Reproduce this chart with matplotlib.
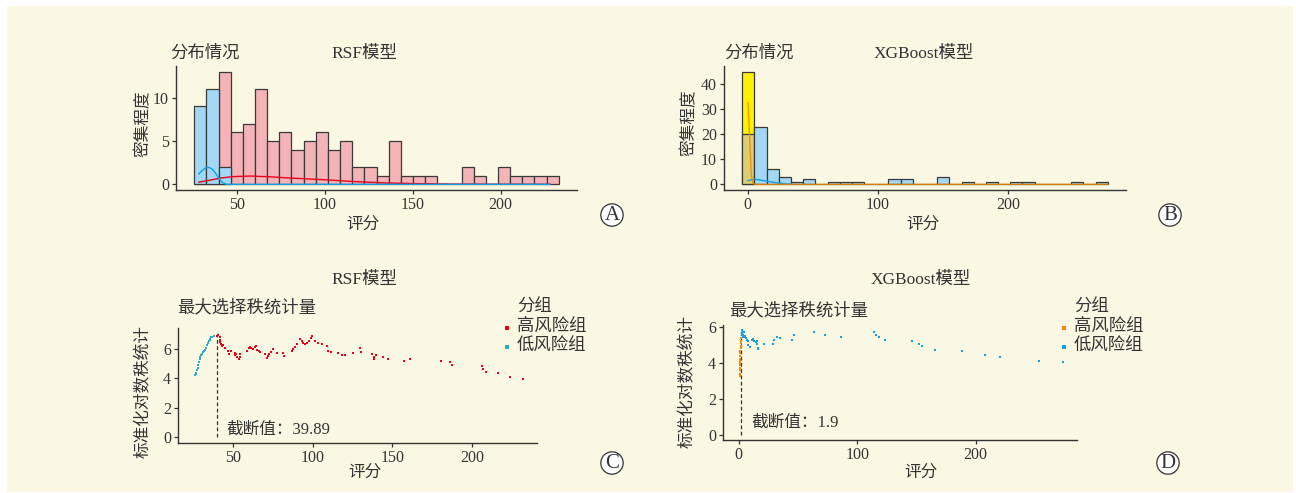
import numpy as np
import matplotlib
matplotlib.use('Agg')
import matplotlib.pyplot as plt
from matplotlib.patches import Rectangle
from matplotlib.lines import Line2D

plt.rcParams['font.family'] = ['Liberation Serif', 'Noto Sans CJK SC']

# ---------------- data ----------------
# RSF histogram (30 bins)
rsf_min, rsf_max = 29.1, 229.5
rsf_high_counts = [0, 0, 13, 6, 7, 11, 5, 6, 4, 5, 6, 4, 5, 2, 2, 1, 5, 1, 1, 1,
                   0, 0, 2, 1, 0, 2, 1, 1, 1, 1]
rsf_low_counts = [9, 11, 2, 0, 0, 0, 0, 0, 0, 0, 0, 0, 0, 0, 0, 0, 0, 0, 0, 0,
                  0, 0, 0, 0, 0, 0, 0, 0, 0, 0]
rsf_low_dens_x = [28.2, 30.1, 32.0, 33.9, 35.8, 37.7, 39.6, 41.5, 43.9, 228.0]
rsf_low_dens_y = [1.2, 1.6, 1.88, 1.96, 1.77, 1.3, 0.7, 0.22, 0.0, 0.0]
rsf_high_dens_x = [28.2, 35, 40.5, 48, 57.6, 68, 78.4, 90, 101, 116, 135, 154, 173, 228]
rsf_high_dens_y = [0.25, 0.5, 0.73, 0.9, 0.96, 0.88, 0.75, 0.63, 0.52, 0.33, 0.16, 0.08, 0.03, 0.0]

# XGBoost histogram (30 bins)
xgb_min, xgb_max = 0.6, 272.0
xgb_high_counts = [45] + [0] * 29
xgb_low_counts = [20, 23, 6, 3, 1, 2, 0, 1, 1, 1, 0, 0, 2, 2, 0, 0, 3, 0, 1, 0,
                  1, 0, 1, 1, 0, 0, 0, 1, 0, 1]
xgb_high_dens_x = [0.3, 1.0, 1.8, 2.8, 4.1, 6.0, 276.7]
xgb_high_dens_y = [32.6, 25.0, 16.5, 4.3, 0.3, 0.0, 0.0]
xgb_low_dens_x = [0.3, 3.0, 6.2, 10.0, 13.8, 19.0, 24.1, 30.0, 34.4]
xgb_low_dens_y = [1.5, 1.8, 2.0, 1.7, 1.35, 0.9, 0.53, 0.2, 0.0]

# RSF maximally selected rank statistics
rsf_cut = 39.89
rsf_low_x = [25.9, 26.5, 26.9, 27.5, 27.7, 28.2, 28.4, 29.0, 29.4, 30.1, 30.5, 31.1,
             31.9, 32.4, 32.8, 33.6, 34.3, 34.9, 35.3, 35.7, 36.4, 37.0, 37.8]
rsf_low_y = [4.24, 4.30, 4.39, 4.57, 4.73, 4.91, 5.14, 5.29, 5.47, 5.56, 5.63, 5.77,
             5.88, 5.92, 6.04, 6.26, 6.38, 6.53, 6.60, 6.67, 6.78, 6.83, 6.89]
rsf_high_x = [40.1, 40.8, 41.6, 42.0, 41.9, 42.7, 43.7, 43.3, 44.8, 46.9, 47.3, 49.0,
              51.0, 51.5, 52.1, 52.7, 53.8, 54.6, 54.2, 59.0, 59.7, 60.5, 61.5, 62.6,
              63.6, 64.3, 65.1, 66.4, 67.2, 69.9, 71.0, 71.8, 72.7, 73.7, 74.8, 77.3,
              81.5, 81.9, 86.7, 87.4, 89.0, 89.9, 92.0, 93.0, 94.1, 95.1, 96.2, 97.9,
              98.7, 99.7, 101.6, 103.5, 105.6, 108.8, 109.8, 111.3, 116.1, 118.2, 120.3,
              125.6, 129.8, 130.4, 137.1, 138.6, 138.6, 139.9, 144.1, 147.5, 157.6, 161.4,
              180.3, 186.0, 187.3, 206.2, 206.8, 208.7, 216.3, 223.9, 232.1]
rsf_high_y = [6.87, 6.92, 6.83, 6.60, 6.49, 6.33, 6.26, 6.19, 6.04, 5.86, 5.66, 5.86,
              5.70, 5.59, 5.63, 5.47, 5.32, 5.63, 5.43, 5.86, 6.08, 6.15, 6.04, 5.99,
              6.15, 6.22, 5.93, 5.86, 5.77, 5.63, 5.36, 5.52, 5.63, 5.81, 5.97, 5.70,
              5.74, 5.54, 5.86, 5.97, 6.15, 6.33, 6.67, 6.56, 6.42, 6.33, 6.42, 6.56,
              6.71, 6.89, 6.56, 6.42, 6.33, 6.20, 5.88, 5.81, 5.70, 5.59, 5.59,
              5.74, 6.04, 5.81, 5.66, 5.47, 5.34, 5.59, 5.47, 5.32, 5.18, 5.32,
              5.18, 5.11, 4.91, 4.84, 4.64, 4.44, 4.33, 4.10, 3.97]

# XGBoost maximally selected rank statistics
xgb_cut = 1.9
xgb_high_x = [1.85, 1.8, 1.7, 1.6, 1.55, 1.4, 1.35, 1.2, 1.1, 1.0, 0.95, 0.9, 0.85,
              0.9, 0.7, 0.65]
xgb_high_y = [5.35, 5.22, 5.10, 4.95, 4.80, 4.65, 4.55, 4.38, 4.22, 4.08, 3.98, 3.90,
              3.72, 3.62, 3.35, 3.25]
xgb_low_x = [2.5, 2.5, 3.0, 3.3, 3.6, 3.9, 4.2, 4.7, 5.3, 5.8, 6.7, 7.5, 8.1, 9.8, 10.9,
             12.0, 13.2, 14.3, 15.1, 15.7, 16.0, 16.5, 21.6, 29.2, 30.1, 32.0, 35.1,
             44.7, 46.9, 63.9, 72.9, 86.5, 114.1, 116.1, 118.3, 123.1, 146.5, 152.1,
             154.7, 165.4, 188.8, 207.7, 220.4, 253.6, 273.4]
xgb_low_y = [5.80, 5.56, 5.65, 5.46, 5.69, 5.56, 5.43, 5.69, 5.50, 5.37, 5.24, 5.19,
             5.00, 4.87, 5.24, 5.31, 5.19, 5.13, 5.06, 5.19, 4.81, 4.76, 5.06, 5.04,
             5.28, 5.46, 5.39, 5.28, 5.52, 5.69, 5.56, 5.41, 5.69, 5.56, 5.46, 5.28,
             5.22, 5.04, 4.91, 4.72, 4.63, 4.41, 4.30, 4.11, 4.04]

# ---------------- style ----------------
W, H = 1296, 493
bg = '#FAF8E3'
txt = '#333333'
blue_bar = '#A2D8F4'
pink_bar = '#F4B3B7'
yellow_bar = '#FFF200'
olive_bar = '#DCCD72'
red = '#E8001C'
blue = '#12A0E4'
teal = '#2FA8CC'
orange = '#F08A00'


def fx(x):
    return x / W


def fy(y):
    return 1 - y / H


def axes_px(x0, y0, x1, y1):
    ax = fig.add_axes([fx(x0), fy(y1), fx(x1) - fx(x0), (y1 - y0) / H])
    ax.set_facecolor(bg)
    for s in ['top', 'right']:
        ax.spines[s].set_visible(False)
    for s in ['left', 'bottom']:
        ax.spines[s].set_color('#333333')
        ax.spines[s].set_linewidth(1.0)
    ax.tick_params(colors='#333333', labelcolor=txt, labelsize=11.5, length=3, width=0.9, pad=2)
    return ax


def hist_edges(vmin, vmax, n=30):
    bw = (vmax - vmin) / (n - 1)
    return vmin - bw / 2 + bw * np.arange(n + 1), bw


fig = plt.figure(figsize=(W / 100, H / 100), dpi=100)
fig.patch.set_facecolor('white')
fig.add_artist(Rectangle((fx(7), fy(492)), fx(1293) - fx(7), (492 - 6) / H,
                         transform=fig.transFigure, facecolor=bg, edgecolor='none', zorder=-10))

# ---------------- A ----------------
ax = axes_px(176, 66, 577, 190)
edges, bw = hist_edges(rsf_min, rsf_max)
ax.bar(edges[:-1], rsf_high_counts, width=bw, align='edge', color=pink_bar, edgecolor='#3a3a3a', linewidth=0.9)
low = np.array(rsf_low_counts)
m = low > 0
ax.bar(edges[:-1][m], low[m], width=bw, align='edge', color=blue_bar, edgecolor='#3a3a3a', linewidth=0.9)
ax.plot(rsf_high_dens_x, rsf_high_dens_y, color=red, lw=1.0)
ax.plot(rsf_low_dens_x, rsf_low_dens_y, color=blue, lw=1.0)
ax.set_xlim(15.2, 243.4)
ax.set_ylim(-0.65, 13.65)
ax.set_xticks([50, 100, 150, 200])
ax.set_yticks([0, 5, 10])

# ---------------- B ----------------
ax = axes_px(724, 66, 1126, 190)
edges, bw = hist_edges(xgb_min, xgb_max)
hi = np.array(xgb_high_counts)
lo = np.array(xgb_low_counts)
ax.bar(edges[:-1][hi > 0], hi[hi > 0], width=bw, align='edge', color=yellow_bar, edgecolor='#3a3a3a', linewidth=0.9)
cols = [olive_bar if h > 0 else blue_bar for h in hi]
ax.bar(edges[:-1], lo, width=bw, align='edge', color=cols, edgecolor='#3a3a3a', linewidth=0.9)
ax.plot(xgb_low_dens_x, xgb_low_dens_y, color=blue, lw=1.0)
ax.plot(xgb_high_dens_x, xgb_high_dens_y, color=orange, lw=1.0, alpha=0.85)
ax.set_xlim(-18.1, 290.7)
ax.set_ylim(-2.25, 47.25)
ax.set_xticks([0, 100, 200])
ax.set_yticks([0, 10, 20, 30, 40])

# ---------------- C ----------------
ax = axes_px(178, 328, 537, 443)
ax.plot([rsf_cut, rsf_cut], [0, max(rsf_high_y + rsf_low_y) + 0.15], color='#333333', lw=0.9, ls=(0, (3, 2)))
ax.plot(rsf_low_x, rsf_low_y, 's', ms=2.0, color=teal, mew=0)
ax.plot(rsf_high_x, rsf_high_y, 's', ms=2.0, color=red, mew=0)
ax.text(rsf_cut + 6, 0.55, '截断值：%.2f' % rsf_cut, fontsize=12, color=txt, va='center')
ax.set_xlim(15.4, 240.9)
ax.set_ylim(-0.38, 7.41)
ax.set_xticks([50, 100, 150, 200])
ax.set_yticks([0, 2, 4, 6])

# ---------------- D ----------------
ax = axes_px(723, 325, 1077, 440)
ax.plot([xgb_cut, xgb_cut], [0, max(xgb_high_y + xgb_low_y)], color='#333333', lw=0.9, ls=(0, (3, 2)))
ax.plot(xgb_high_x, xgb_high_y, 's', ms=2.0, color=orange, mew=0)
ax.plot(xgb_low_x, xgb_low_y, 's', ms=2.0, color=blue, mew=0)
ax.text(xgb_cut + 9, 0.65, '截断值：%s' % xgb_cut, fontsize=12, color=txt, va='center')
ax.set_xlim(-13.3, 285.5)
ax.set_ylim(-0.29, 6.1)
ax.set_xticks([0, 100, 200])
ax.set_yticks([0, 2, 4, 6])

# ---------------- texts ----------------
def ftext(x, y, s, **kw):
    kw.setdefault('fontsize', 12.5)
    kw.setdefault('color', txt)
    kw.setdefault('va', 'center')
    fig.text(fx(x), fy(y), s, **kw)


# panel A / B
ftext(170, 54, '分布情况')
ftext(364, 54, 'RSF模型', ha='center')
ftext(143, 124, '密集程度', ha='center', rotation=90, fontsize=12)
ftext(363, 225, '评分', ha='center', fontsize=12)
ftext(724, 54, '分布情况')
ftext(924, 54, 'XGBoost模型', ha='center')
ftext(689, 123, '密集程度', ha='center', rotation=90, fontsize=12)
ftext(923, 225, '评分', ha='center', fontsize=12)

# panel C / D
ftext(364, 280, 'RSF模型', ha='center')
ftext(177, 308, '最大选择秩统计量')
ftext(144, 392, '标准化对数秩统计', ha='center', rotation=90, fontsize=12)
ftext(365, 473, '评分', ha='center', fontsize=12)
ftext(921, 280, 'XGBoost模型', ha='center')
ftext(729, 311, '最大选择秩统计量')
ftext(688, 381, '标准化对数秩统计', ha='center', rotation=90, fontsize=12)
ftext(921, 473, '评分', ha='center', fontsize=12)

# legends
for lx, hcol, lcol in [(507, red, teal), (1064, orange, blue)]:
    ftext(lx + 10, 308, '分组')
    ftext(lx + 10, 328, '高风险组')
    ftext(lx + 10, 346.5, '低风险组')
    fig.add_artist(Line2D([fx(lx)], [fy(328)], marker='s', ms=3.2, color=hcol, mew=0, transform=fig.transFigure))
    fig.add_artist(Line2D([fx(lx)], [fy(346.5)], marker='s', ms=3.2, color=lcol, mew=0, transform=fig.transFigure))

# circled letters
for x, y, s in [(612, 215, 'A'), (1170, 215, 'B'), (612, 463, 'C'), (1168, 463, 'D')]:
    ftext(x, y, s, ha='center', fontsize=15,
          bbox=dict(boxstyle='circle,pad=0.08', facecolor='white', edgecolor='#333333', linewidth=0.9))

plt.savefig('out.png', dpi=100, facecolor=fig.get_facecolor())
plt.close()
